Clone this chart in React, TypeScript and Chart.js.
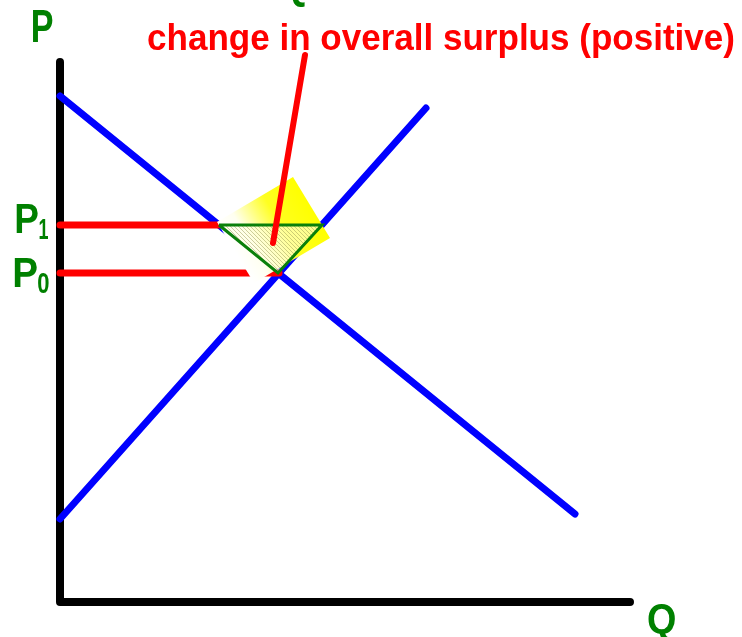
import React, { useEffect, useRef } from "react";
import { Chart, registerables } from "chart.js";

Chart.register(...registerables);

// ---- Data (economic units: quantity Q, price P) ----
const axisQ = [0, 0, 57];
const axisP = [54.0, 0, 0];

const demandQ = [0, 51.5];
const demandP = [50.6, 8.8];

const supplyQ = [0, 36.6];
const supplyP = [8.3, 49.4];

const priceLevels = [37.7, 32.9]; // P1, P0
const priceLineEndQ = [15.9, 21.9];

const surplusQ = [15.9, 26.2, 21.8];
const surplusP = [37.7, 37.7, 32.9];

const highlightQ = [15.7, 23.3, 27.0, 19.4];
const highlightP = [38.0, 42.5, 36.4, 31.9];

const pointerQ = [24.5, 21.3];
const pointerP = [54.7, 35.9];

const titleText = "change in overall surplus (positive)";
const axisLabels = ["P", "Q"];
const priceLabels = ["1", "0"];

const pts = (qs: number[], ps: number[]) => qs.map((q, i) => ({ x: q, y: ps[i] }));

function drawFitText(
  ctx: CanvasRenderingContext2D,
  text: string,
  left: number,
  baseline: number,
  size: number,
  width: number,
  color: string
) {
  ctx.save();
  ctx.font = `bold ${size}px "Liberation Sans", Arial, sans-serif`;
  const m = ctx.measureText(text);
  const w = m.actualBoundingBoxLeft + m.actualBoundingBoxRight;
  const s = width / w;
  ctx.translate(left, baseline);
  ctx.scale(s, 1);
  ctx.fillStyle = color;
  ctx.textBaseline = "alphabetic";
  ctx.fillText(text, m.actualBoundingBoxLeft, 0);
  ctx.restore();
}

const labelsPlugin = {
  id: "labels",
  afterDatasetsDraw(chart: any) {
    const ctx = chart.ctx as CanvasRenderingContext2D;
    const green = "#008000";
    drawFitText(ctx, titleText, 148, 50, 36, 586, "#ff0000");
    drawFitText(ctx, axisLabels[0], 33, 42, 46, 20, green);
    drawFitText(ctx, axisLabels[1], 281, -2, 42, 26, green);
    drawFitText(ctx, axisLabels[1], 648, 633, 42, 27, green);
    // P1
    drawFitText(ctx, "P", 16, 233, 42, 22, green);
    drawFitText(ctx, priceLabels[0], 39, 239, 30, 9, green);
    // P0
    drawFitText(ctx, "P", 14, 287, 42, 23, green);
    drawFitText(ctx, priceLabels[1], 38, 293, 30, 11, green);
  },
};

function makeHatch(): CanvasPattern | string {
  const c = document.createElement("canvas");
  c.width = 4;
  c.height = 4;
  const g = c.getContext("2d");
  if (!g) return "rgba(255,255,220,0.6)";
  g.fillStyle = "rgba(255,255,228,0.6)";
  g.fillRect(0, 0, 4, 4);
  g.strokeStyle = "rgba(150,150,80,0.6)";
  g.lineWidth = 0.8;
  g.beginPath();
  g.moveTo(-1, -1);
  g.lineTo(5, 5);
  g.moveTo(-1, 3);
  g.lineTo(1, 5);
  g.moveTo(3, -1);
  g.lineTo(5, 1);
  g.stroke();
  const p = g.createPattern(c, "repeat");
  return p || "rgba(255,255,220,0.6)";
}

export default function App() {
  const ref = useRef<HTMLCanvasElement>(null);

  useEffect(() => {
    if (!ref.current) return;
    const hatch = makeHatch();
    const lineBase = {
      showLine: true,
      pointRadius: 0,
      pointHoverRadius: 0,
      borderCapStyle: "round" as const,
      borderJoinStyle: "round" as const,
      fill: false,
      clip: false as any,
    };
    const gradientFill = (c: any) => {
      const chart = c.chart;
      const xs = chart.scales && chart.scales.x;
      const ys = chart.scales && chart.scales.y;
      if (!xs || !ys) return "#ffff00";
      const x0 = (highlightQ[0] + highlightQ[3]) / 2;
      const y0 = (highlightP[0] + highlightP[3]) / 2;
      const x1 = (highlightQ[1] + highlightQ[2]) / 2;
      const y1 = (highlightP[1] + highlightP[2]) / 2;
      const a = xs.getPixelForValue(x0);
      const b = ys.getPixelForValue(y0);
      const cc = xs.getPixelForValue(x1);
      const d = ys.getPixelForValue(y1);
      if (![a, b, cc, d].every((v) => Number.isFinite(v))) return "#ffff00";
      const g = chart.ctx.createLinearGradient(a, b, cc, d);
      g.addColorStop(0, "#ffffff");
      g.addColorStop(0.2, "#fffff0");
      g.addColorStop(0.6, "#ffff20");
      g.addColorStop(1, "#ffff00");
      return g;
    };

    const chart = new Chart(ref.current, {
      type: "scatter",
      data: {
        datasets: [
          { ...lineBase, data: pts(axisQ, axisP), borderColor: "#000000", borderWidth: 8, order: 6 },
          { ...lineBase, data: pts(demandQ, demandP), borderColor: "#0000ff", borderWidth: 7, order: 5 },
          { ...lineBase, data: pts(supplyQ, supplyP), borderColor: "#0000ff", borderWidth: 7, order: 5 },
          {
            ...lineBase,
            data: pts([0, priceLineEndQ[0]], [priceLevels[0], priceLevels[0]]),
            borderColor: "#ff0000",
            borderWidth: 7,
            order: 4,
          },
          {
            ...lineBase,
            data: pts([0, priceLineEndQ[1]], [priceLevels[1], priceLevels[1]]),
            borderColor: "#ff0000",
            borderWidth: 7,
            order: 4,
          },
          {
            ...lineBase,
            data: pts([...highlightQ, highlightQ[0]], [...highlightP, highlightP[0]]),
            borderWidth: 0,
            borderColor: "rgba(0,0,0,0)",
            backgroundColor: gradientFill,
            fill: "shape" as any,
            order: 3,
          },
          {
            ...lineBase,
            data: pts([...surplusQ, surplusQ[0]], [...surplusP, surplusP[0]]),
            borderColor: "#0a800a",
            borderWidth: 3,
            backgroundColor: hatch as any,
            fill: "shape" as any,
            borderCapStyle: "butt" as const,
            borderJoinStyle: "miter" as const,
            order: 2,
          },
          { ...lineBase, data: pts(pointerQ, pointerP), borderColor: "#ff0000", borderWidth: 6, order: 1 },
        ],
      },
      options: {
        responsive: false,
        animation: false,
        devicePixelRatio: 1,
        layout: { padding: 0 },
        events: [],
        scales: {
          x: { type: "linear", display: false, min: -6, max: 68.2 },
          y: { type: "linear", display: false, min: -3.5, max: 60.2 },
        },
        plugins: {
          legend: { display: false },
          tooltip: { enabled: false },
          title: { display: false },
        },
      },
      plugins: [labelsPlugin],
    });
    return () => chart.destroy();
  }, []);

  return (
    <canvas
      ref={ref}
      width={742}
      height={637}
      style={{ position: "absolute", left: 0, top: 0, width: 742, height: 637 }}
    />
  );
}
